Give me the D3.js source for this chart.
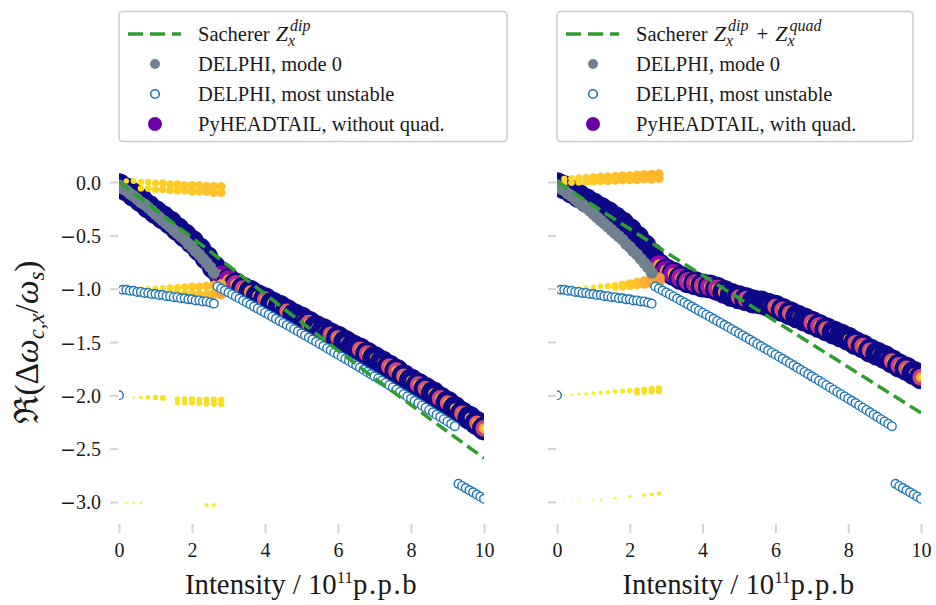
<!DOCTYPE html>
<html><head><meta charset="utf-8">
<script src="https://cdn.jsdelivr.net/npm/d3@7"></script>
<style>body{margin:0;background:#fff}svg{display:block}</style>
</head><body>
<svg id="c" width="936" height="605"></svg>
<script>
// ---------------- DATA ----------------
const xTicks = [0, 2, 4, 6, 8, 10];
const yTicks = [0, -0.5, -1, -1.5, -2, -2.5, -3];
const yTickLabels = ["0.0", "−0.5", "−1.0", "−1.5", "−2.0", "−2.5", "−3.0"];

// Sacherer (green dashed)
const sachI = [0,1,2,3,4,5,6,7,8,9,10];
const sachLeft  = [0,-0.26,-0.52,-0.785,-1.05,-1.315,-1.58,-1.84,-2.09,-2.34,-2.59];
const sachRight = [0,-0.22,-0.44,-0.66,-0.875,-1.09,-1.305,-1.52,-1.735,-1.95,-2.165];

// DELPHI mode 0 (grey)
const delphiM0I = [0,0.1,0.2,0.3,0.4,0.5,0.6,0.7,0.8,0.9,1,1.1,1.2,1.3,1.4,1.5,1.6,1.7,1.8,1.9,2,2.1,2.2,2.3,2.4,2.5,2.6];
const delphiM0Y = [-0.03,-0.06,-0.08,-0.11,-0.13,-0.16,-0.19,-0.21,-0.24,-0.27,-0.30,-0.33,-0.36,-0.39,-0.42,-0.45,-0.48,-0.51,-0.54,-0.58,-0.61,-0.65,-0.68,-0.72,-0.76,-0.80,-0.85];

// DELPHI most unstable (open blue circles)
const delphiUnI = [0,
 0.1,0.2,0.3,0.4,0.5,0.6,0.7,0.8,0.9,1,1.1,1.2,1.3,1.4,1.5,1.6,1.7,1.8,1.9,2,2.1,2.2,2.3,2.4,2.5,2.6,
 2.7,2.8,2.9,3,3.1,3.2,3.3,3.4,3.5,3.6,3.7,3.8,3.9,4,4.1,4.2,4.3,4.4,4.5,4.6,4.7,4.8,4.9,5,5.1,5.2,5.3,5.4,5.5,5.6,5.7,5.8,5.9,6,
 6.1,6.2,6.3,6.4,6.5,6.6,6.7,6.8,6.9,7,7.1,7.2,7.3,7.4,7.5,7.6,7.7,7.8,7.9,8,8.1,8.2,8.3,8.4,8.5,8.6,8.7,8.8,8.9,9,9.1,9.2,
 9.3,9.4,9.5,9.6,9.7,9.8,9.9,10];
const delphiUnY = [-2.0,
 -1.01,-1.01,-1.02,-1.02,-1.03,-1.03,-1.04,-1.04,-1.05,-1.05,-1.06,-1.06,-1.07,-1.07,-1.08,-1.08,-1.09,-1.09,-1.10,-1.10,-1.11,-1.11,-1.12,-1.12,-1.13,-1.14,
 -0.980,-0.999,-1.017,-1.036,-1.054,-1.073,-1.092,-1.111,-1.130,-1.149,
 -1.168,-1.187,-1.206,-1.225,-1.244,-1.263,-1.283,-1.302,-1.321,-1.341,
 -1.360,-1.380,-1.399,-1.419,-1.438,-1.458,-1.478,-1.498,-1.518,-1.538,
 -1.558,-1.578,-1.598,-1.618,-1.638,-1.658,-1.678,-1.699,-1.719,-1.740,
 -1.760,-1.781,-1.801,-1.822,-1.842,-1.863,-1.884,-1.905,-1.926,-1.947,
 -1.968,-1.989,-2.010,-2.031,-2.052,-2.073,-2.095,-2.116,-2.137,-2.159,
 -2.181,-2.202,-2.224,-2.245,-2.267,-2.289,
 -2.83,-2.85,-2.87,-2.89,-2.91,-2.93,-2.95,-2.97];

// PyHEADTAIL main peak (y) and secondary-peak amplitude per intensity
const phtI = [0,0.2,0.4,0.6,0.8,1,1.2,1.4,1.6,1.8,2,2.2,2.4,2.6,2.8,3,3.2,3.4,3.6,3.8,4,4.2,4.4,4.6,4.8,5,5.2,5.4,5.6,5.8,6,6.2,6.4,6.6,6.8,7,7.2,7.4,7.6,7.8,8,8.2,8.4,8.6,8.8,9,9.2,9.4,9.6,9.8,10];
const phtLeftY = [-0.03,-0.07,-0.12,-0.17,-0.23,-0.28,-0.33,-0.38,-0.44,-0.50,-0.56,-0.63,-0.71,-0.80,
 -0.88,-0.92,-0.96,-1.00,-1.03,-1.07,-1.10,-1.14,-1.17,-1.21,-1.25,-1.28,-1.32,-1.36,-1.39,-1.43,-1.46,-1.50,-1.54,-1.57,
 -1.61,-1.65,-1.69,-1.73,-1.77,-1.82,-1.86,-1.90,-1.94,-1.98,-2.03,-2.07,-2.12,-2.17,-2.21,-2.26,-2.31];
const phtLeftA2 = [0,0,0,0,0,0,0,0,0,0,0,0,0,0,
 0.75,0.7,0.6,0.5,0.3,0.2,0.45,0.2,0.15,0.4,0.15,0.1,0.45,0.15,0.1,0.45,0.4,0.15,0.1,0.45,
 0.5,0.15,0.12,0.45,0.5,0.4,0.15,0.5,0.45,0.15,0.5,0.4,0.15,0.45,0.15,0.4,0.5];
const phtRightY = [-0.02,-0.05,-0.09,-0.13,-0.17,-0.21,-0.25,-0.29,-0.34,-0.39,-0.45,-0.52,-0.60,-0.68,
 -0.78,-0.83,-0.86,-0.90,-0.93,-0.95,-0.97,-0.98,-1.00,-1.03,-1.06,-1.08,-1.10,-1.12,-1.13,-1.15,-1.17,-1.20,-1.23,-1.26,
 -1.29,-1.32,-1.35,-1.38,-1.41,-1.44,-1.47,-1.51,-1.54,-1.58,-1.61,-1.64,-1.68,-1.72,-1.75,-1.79,-1.83];
const phtRightA2 = [0,0,0,0,0,0,0,0,0,0,0,0,0,0,
 0.7,0.75,0.7,0.65,0.6,0.6,0.55,0.65,0.6,0.3,0.15,0.45,0.5,0.15,0.1,0.15,0.45,0.5,0.45,0.15,
 0.1,0.5,0.55,0.45,0.15,0.1,0.15,0.45,0.5,0.45,0.15,0.1,0.45,0.5,0.45,0.15,0.5];

// PyHEADTAIL weaker peaks at low intensity (other azimuthal modes)
const extraI = [0.2,0.4,0.6,0.8,1,1.2,1.4,1.6,1.8,2,2.2,2.4,2.6,2.8];
const leftTopY1 = [0.01,0.01,0.0,0.0,-0.01,-0.01,-0.02,-0.02,-0.03,-0.03,-0.03,-0.04,-0.04,-0.04];
const leftTopY2 = [null,null,-0.06,-0.06,-0.07,-0.07,-0.08,-0.08,-0.08,-0.09,-0.09,-0.09,-0.10,-0.10];
const leftTopA  = [0.05,0.06,0.07,0.08,0.09,0.1,0.1,0.11,0.11,0.12,0.12,0.13,0.13,0.13];
const leftM1Y1 = [-1.0,-1.0,-1.0,-1.0,-1.0,-0.995,-0.99,-0.99,-0.985,-0.98,-0.98,-0.975,-0.97,-0.96];
const leftM1Y2 = [null,null,null,null,null,null,-1.04,-1.04,-1.045,-1.045,-1.05,-1.05,-1.05,-1.05];
const leftM1A  = [0.02,0.03,0.04,0.05,0.06,0.07,0.08,0.09,0.1,0.11,0.12,0.13,0.16,0.2];
const leftM2Y1 = [-2.02,-2.02,-2.02,-2.02,-2.02,-2.025,null,-2.035,-2.035,-2.035,-2.04,-2.04,-2.04,-2.04];
const leftM2Y2 = [null,null,null,null,null,null,null,-2.07,-2.07,-2.07,-2.075,-2.08,-2.08,-2.08];
const leftM2A  = [0.004,0.012,0.025,0.04,0.05,0.06,0,0.05,0.055,0.06,0.06,0.065,0.065,0.07];
const leftM3Y  = [-3.01,-3.01,-3.01,null,null,null,null,null,null,null,null,-3.03,-3.03,null];
const leftM3A  = [0.008,0.01,0.012,0,0,0,0,0,0,0,0,0.03,0.03,0];

const rightTopY1 = [0.03,0.035,0.04,0.04,0.045,0.05,0.05,0.055,0.06,0.06,0.065,0.07,0.07,0.075];
const rightTopY2 = [-0.01,-0.005,0.0,0.0,0.005,0.01,0.01,0.015,0.02,0.02,0.025,0.03,0.03,0.035];
const rightTopA  = [0.07,0.08,0.09,0.1,0.11,0.12,0.13,0.13,0.14,0.14,0.15,0.15,0.16,0.16];
const rightM1Y1 = [-1.0,-1.0,-0.995,-0.99,-0.985,-0.98,-0.975,-0.97,-0.96,-0.95,-0.94,-0.93,-0.915,-0.90];
const rightM1Y2 = [null,null,null,null,null,null,null,-0.99,-0.985,-0.975,-0.965,-0.955,-0.945,-0.93];
const rightM1A  = [0.01,0.02,0.03,0.04,0.05,0.06,0.07,0.08,0.1,0.12,0.14,0.17,0.2,0.24];
const rightM2Y1 = [-2.0,-1.995,-1.99,-1.985,-1.98,-1.975,-1.97,-1.965,-1.96,-1.955,-1.95,-1.945,-1.94,-1.935];
const rightM2Y2 = [null,null,null,null,null,null,null,null,null,null,-1.975,-1.97,-1.965,-1.96];
const rightM2A  = [0.005,0.01,0.015,0.02,0.025,0.03,0.035,0.04,0.045,0.05,0.055,0.06,0.065,0.07];
const rightM3Y  = [-3.0,-2.995,-2.99,null,-2.985,-2.98,null,-2.965,null,-2.95,null,-2.935,-2.93,-2.92];
const rightM3A  = [0.003,0.004,0.005,0,0.006,0.008,0,0.012,0,0.018,0,0.025,0.03,0.035];

// ---------------- DRAW ----------------
const SERIF = "'Liberation Serif'";
const TXT = '#1a1a1a';
const svg = d3.select('#c');
const defs = svg.append('defs');
const y = d3.scaleLinear().domain([-3.2, 0.2]).range([523.3, 160.7]);
const rS = a => 12 * Math.sqrt(a);
const cS = a => d3.interpolatePlasma(1 - a);

function extrasPoints(ys, as, out) {
  extraI.forEach((I, i) => { if (ys[i] !== null && as[i] > 0) out.push({I, y: ys[i], a: as[i]}); });
}

function panel(cfg, idx) {
  const x = d3.scaleLinear().domain([0, 10]).range([cfg.x0, cfg.x1]);
  const ax = svg.append('g').attr('transform', `translate(0,524)`)
    .call(d3.axisBottom(x).tickValues(xTicks).tickSize(9).tickFormat(d3.format('d')));
  ax.select('.domain').remove();
  ax.selectAll('line').attr('stroke', '#d2d2d2').attr('stroke-width', 2);
  ax.selectAll('text').attr('y', 33).attr('dy', 0).style('font-family', SERIF)
    .attr('font-size', 20).attr('fill', TXT);
  const ay = svg.append('g').attr('transform', `translate(${cfg.x0 - 1},0)`)
    .call(d3.axisLeft(y).tickValues(yTicks).tickSize(8).tickPadding(9)
      .tickFormat((d, i) => cfg.showY ? yTickLabels[i] : ''));
  ay.select('.domain').remove();
  ay.selectAll('line').attr('stroke', '#d2d2d2').attr('stroke-width', 2);
  ay.selectAll('text').style('font-family', SERIF).attr('font-size', 20).attr('fill', TXT).attr('dy', '0.35em')
    .each(function () {
      const el = d3.select(this); const s = el.text();
      if (s.startsWith('−')) {
        el.text('');
        el.append('tspan').style('font-family', "'DejaVu Sans'").attr('font-size', 19).text('−');
        el.append('tspan').style('font-family', SERIF).text(s.slice(1));
      }
    });

  defs.append('clipPath').attr('id', 'clip' + idx).append('rect')
    .attr('x', cfg.x0).attr('y', y(0.25)).attr('width', cfg.x1 - cfg.x0).attr('height', y(-3.2) - y(0.25));
  const plot = svg.append('g').attr('clip-path', `url(#clip${idx})`);

  // PyHEADTAIL main peaks
  const pts = [];
  phtI.forEach((I, i) => {
    pts.push({I, y: cfg.phtY[i], a: 1});
    const a2 = cfg.phtA2[i];
    if (a2 > 0) {
      pts.push({I, y: cfg.phtY[i], a: a2});
      pts.push({I, y: cfg.phtY[i], a: a2 * 0.35});
      pts.push({I, y: cfg.phtY[i], a: a2 * 0.08});
    }
  });
  plot.append('g').selectAll('circle').data(pts).join('circle')
    .attr('cx', d => x(d.I)).attr('cy', d => y(d.y)).attr('r', d => rS(d.a)).attr('fill', d => cS(d.a));

  // weaker peaks
  const ex = [];
  cfg.extras.forEach(e => extrasPoints(e[0], e[1], ex));
  plot.append('g').selectAll('circle').data(ex).join('circle')
    .attr('cx', d => x(d.I)).attr('cy', d => y(d.y)).attr('r', d => rS(d.a)).attr('fill', d => cS(d.a));

  // DELPHI mode 0
  plot.append('g').selectAll('circle').data(delphiM0I).join('circle')
    .attr('cx', d => x(d)).attr('cy', (d, i) => y(delphiM0Y[i])).attr('r', 6).attr('fill', '#708090');

  // DELPHI most unstable
  plot.append('g').selectAll('circle').data(delphiUnI).join('circle')
    .attr('cx', d => x(d)).attr('cy', (d, i) => y(delphiUnY[i])).attr('r', 4.3)
    .attr('fill', 'white').attr('stroke', '#1f77b4').attr('stroke-width', 1.4);

  // Sacherer
  plot.append('path').datum(sachI)
    .attr('d', d3.line().x(d => x(d)).y((d, i) => y(cfg.sach[i])))
    .attr('fill', 'none').attr('stroke', '#2ca02c').attr('stroke-width', 3.5).attr('stroke-dasharray', '13,6');

  // x label
  const xl = svg.append('text').attr('x', (cfg.x0 + cfg.x1) / 2).attr('y', 594).attr('text-anchor', 'middle')
    .attr('font-size', 25).attr('fill', TXT).style('font-family', SERIF);
  xl.append('tspan').style('font-family', SERIF).text('Intensity / 10');
  xl.append('tspan').style('font-family', SERIF).attr('font-size', 17).attr('dy', -11).text('11');
  xl.append('tspan').style('font-family', SERIF).attr('dy', 11).attr('letter-spacing', 1.5).text('p.p.b');
  const w = xl.node().getComputedTextLength();
  xl.attr('font-size', 25 * Math.min(1.15, 241 / w));

  legend(cfg);
}

function addT(g, x, yy, s, size, italic) {
  const t = g.append('text').attr('x', x).attr('y', yy).attr('font-size', size).attr('fill', TXT)
    .style('font-family', SERIF).attr('font-style', italic ? 'italic' : 'normal').text(s);
  return t.node().getComputedTextLength();
}
function zx(g, x, sup) {
  const w = addT(g, x, 41, 'Z', 22, true);
  const w1 = addT(g, x + w + 2, 31, sup, 16, true);
  const w2 = addT(g, x + w, 46, 'x', 16, true);
  return w + Math.max(w1 + 2, w2) + 2;
}
function legend(cfg) {
  const g = svg.append('g');
  g.append('rect').attr('x', cfg.lx).attr('y', 11.5).attr('width', cfg.lw).attr('height', 130).attr('rx', 4)
    .attr('fill', 'white').attr('fill-opacity', 0.85).attr('stroke', '#cccccc').attr('stroke-width', 1.6);
  const mx = cfg.lx + 36, tx = cfg.lx + 79;
  g.append('line').attr('x1', cfg.lx + 9).attr('x2', cfg.lx + 62).attr('y1', 34).attr('y2', 34)
    .attr('stroke', '#2ca02c').attr('stroke-width', 3.5).attr('stroke-dasharray', '15,7');
  let cx = tx;
  cx += addT(g, cx, 41, 'Sacherer', 20.5, false) + 6;
  cx += zx(g, cx, 'dip');
  if (cfg.quad) {
    cx += 6;
    cx += addT(g, cx, 41, '+', 21, false) + 7;
    cx += zx(g, cx, 'quad');
  }
  g.append('circle').attr('cx', mx).attr('cy', 64).attr('r', 5).attr('fill', '#708090');
  addT(g, tx, 71, 'DELPHI, mode 0', 20.5, false);
  g.append('circle').attr('cx', mx).attr('cy', 94).attr('r', 4.3).attr('fill', 'white')
    .attr('stroke', '#1f77b4').attr('stroke-width', 1.6);
  addT(g, tx, 101, 'DELPHI, most unstable', 20.5, false);
  g.append('circle').attr('cx', mx).attr('cy', 124).attr('r', 7).attr('fill', '#6a00a8');
  addT(g, tx, 131, cfg.phtLabel, 20.5, false);
}

panel({x0: 119, x1: 484, showY: true, phtY: phtLeftY, phtA2: phtLeftA2, sach: sachLeft,
  extras: [[leftTopY1, leftTopA], [leftTopY2, leftTopA], [leftM1Y1, leftM1A], [leftM1Y2, leftM1A],
           [leftM2Y1, leftM2A], [leftM2Y2, leftM2A], [leftM3Y, leftM3A]],
  lx: 119, lw: 388, quad: false, phtLabel: 'PyHEADTAIL, without quad.'}, 0);
panel({x0: 557, x1: 921, showY: false, phtY: phtRightY, phtA2: phtRightA2, sach: sachRight,
  extras: [[rightTopY1, rightTopA], [rightTopY2, rightTopA], [rightM1Y1, rightM1A], [rightM1Y2, rightM1A],
           [rightM2Y1, rightM2A], [rightM2Y2, rightM2A], [rightM3Y, rightM3A]],
  lx: 557, lw: 356, quad: true, phtLabel: 'PyHEADTAIL, with quad.'}, 1);

// y label
const yl = svg.append('text').attr('transform', 'translate(38,342) rotate(-90)').attr('text-anchor', 'middle')
  .attr('font-size', 30).attr('fill', TXT).style('font-family', SERIF);
const ylParts = [['ℜ', false, 0, "'DejaVu Serif'"], ['(Δ', false, 0], ['ω', true, 0], ['c,x', true, 1],
                 ['/', false, -1], ['ω', true, 0], ['s', true, 1], [')', false, -1]];
ylParts.forEach(p => {
  const t = yl.append('tspan').style('font-family', p[3] || SERIF).attr('font-style', p[1] ? 'italic' : 'normal').text(p[0]);
  if (p[2] === 1) t.attr('font-size', '0.68em').attr('dy', 6);
  if (p[2] === -1) t.attr('dy', -6);
});
const ylw = yl.node().getComputedTextLength();
yl.attr('font-size', 30 * 163 / ylw);
</script>
</body></html>
